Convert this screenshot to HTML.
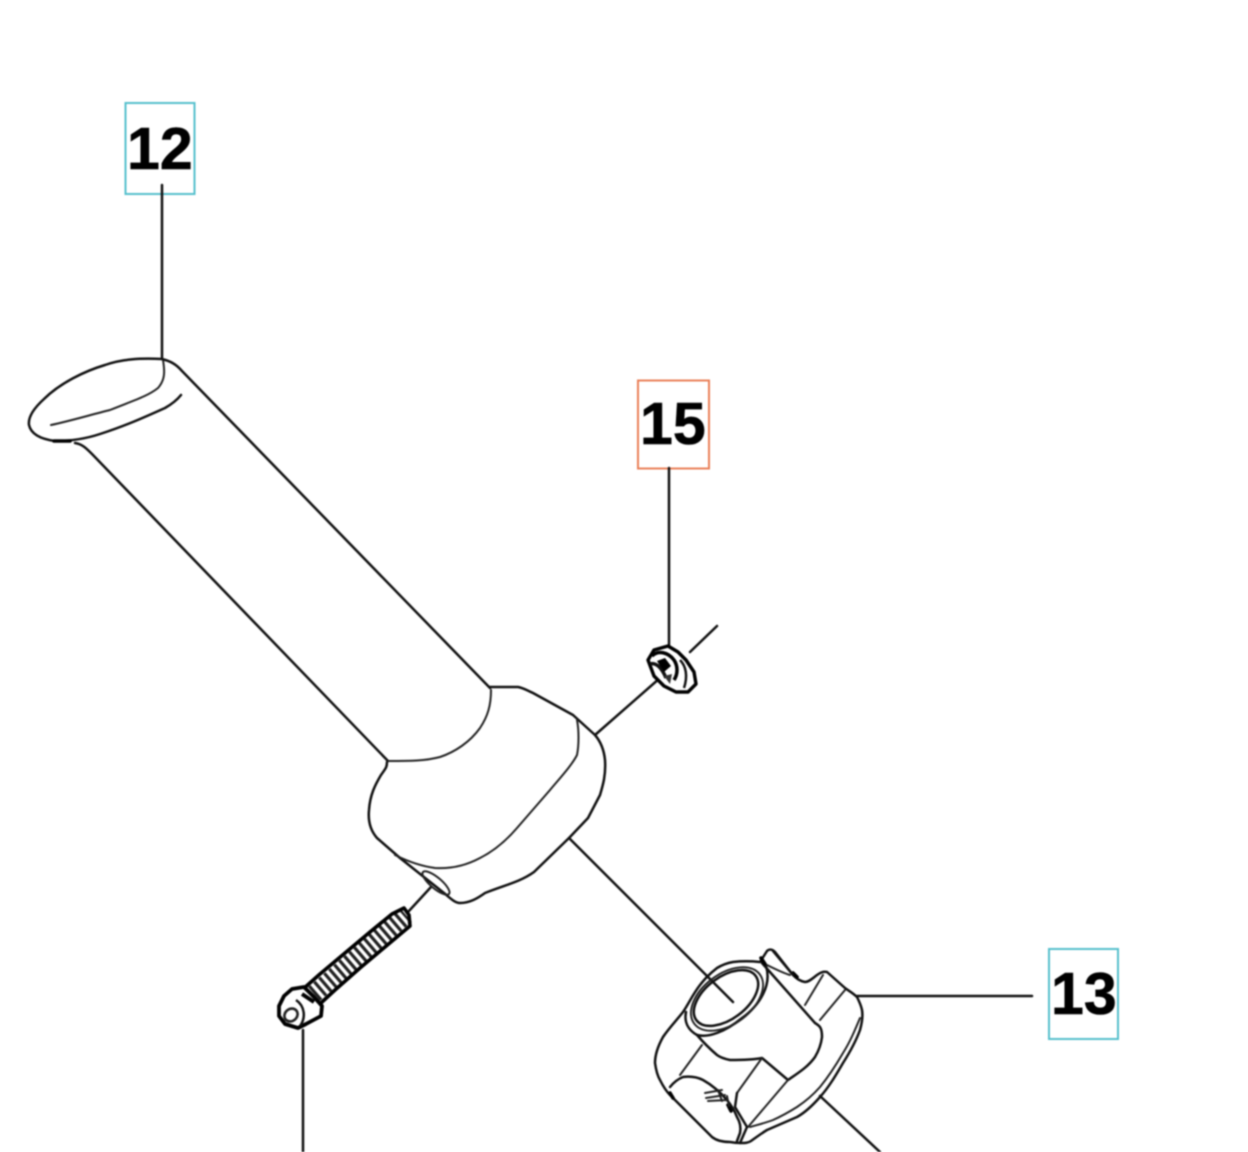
<!DOCTYPE html>
<html>
<head>
<meta charset="utf-8">
<style>
html,body{margin:0;padding:0;background:#fff;width:1248px;height:1152px;overflow:hidden}
svg{display:block;filter:blur(.7px)}
text{font-family:"Liberation Sans",sans-serif;font-weight:700;font-size:59px;fill:#000;stroke:#000;stroke-width:.6px}
.m{fill:none;stroke:#111;stroke-width:2.5;stroke-linejoin:round;stroke-linecap:round}
.t{fill:none;stroke:#222;stroke-width:2;stroke-linejoin:round;stroke-linecap:round}
.h{fill:none;stroke:#000;stroke-width:3.6;stroke-linejoin:round;stroke-linecap:round}
</style>
</head>
<body>
<svg width="1248" height="1152" viewBox="0 0 1248 1152" xmlns="http://www.w3.org/2000/svg">
<rect x="125.500" y="103" width="69" height="91" fill="none" stroke="#55c0cd" stroke-width="2"/>
<rect x="638" y="380.500" width="71" height="88" fill="none" stroke="#ea8058" stroke-width="2"/>
<rect x="1049" y="949" width="69" height="90" fill="none" stroke="#55c0cd" stroke-width="2"/>
<text x="127" y="169">12</text>
<text x="640" y="444">15</text>
<text x="1051" y="1014">13</text>

<!-- leaders -->
<path class="m" d="M162 185V359M669 468V648M857 996H1032M303 1030V1152"/>
<path class="m" d="M569 838L733 1002M820 1096L880 1152M595 735L660 678M690 652L717 626M431 887L408 912"/>

<!-- grip -->
<path class="m" d="M162 359C140 358 122 359 105 365C85 371 60 383 44 399C33 409 28 418 29 425C31 434 40 439 55 441C70 441 85 439 100 434C125 426 145 417 165 408C172 404 177 400 181 395"/>
<path class="t" d="M163 360C165 372 165 380 158 388C148 396 135 400 110 410C90 415 70 421 51 425"/>
<path class="h" d="M54 441H70" />
<path class="m" d="M162 359C170 361 176 364 182 371L490 688"/>
<path class="m" d="M75 443C82 444 86 448 92 454L388 761"/>
<!-- collar -->
<path class="m" d="M490 687H518C524 688 528 691 533 693L573 715L595 735C601 742 604 750 605 760C606 775 603 785 600 795L588 818L569 838L534 872C520 882 505 885 485 893C478 898 470 903 460 903C455 903 450 898 444 893L400 858L377 838C370 830 368 820 369 810C370 795 375 785 381 775C386 768 387 767 387 762"/>
<path class="t" d="M491 690C491 705 488 716 480 728C470 742 455 752 440 757C425 761 410 761 388 761"/>
<path class="t" d="M577 720C579 730 579 745 577 755C572 765 560 778 550 790L517 828C505 842 492 852 480 858C465 866 450 869 435 868C420 866 405 860 395 855"/>
<ellipse class="t" cx="436" cy="883" rx="17" ry="5.500" transform="rotate(40 436 883)"/>

<!-- nut -->
<g>
<path d="M648 660L654 650L668 646L678 652L686 660L694 672L696 684L688 692L676 692L664 686L654 676Z" fill="#fff" stroke="#000" stroke-width="3.400" stroke-linejoin="round"/>
<path d="M652 656C658 650 668 652 674 660C678 666 678 674 674 680" fill="none" stroke="#000" stroke-width="3.500"/>
<path d="M650 664C656 662 662 668 666 678" fill="none" stroke="#111" stroke-width="3.500"/>
<path d="M680 660C686 666 688 676 684 688" fill="none" stroke="#111" stroke-width="2.500"/>
<path d="M657 661L665 658L671 666L664 672Z" fill="#000"/>
<path d="M664 676L672 674L670 684Z" fill="#333"/>
</g>

<!-- bolt -->
<g>
<path d="M314 994L406 915" fill="none" stroke="#222" stroke-width="18" stroke-dasharray="3.200 3.400"/>
<path class="h" d="M302 990L320 974L345 953L370 932L392 914L404 908L409 915L410 926L385 947L360 968L335 990L322 1002L316 1010" stroke-width="4"/>
<path d="M292 989L304 987L314 997L322 1006L321 1016L306 1024L298 1028L285 1024L279 1016L279 1006L284 996Z" fill="#fff" stroke="#000" stroke-width="3.800" stroke-linejoin="round"/>
<path d="M296 1000C305 1006 306 1018 300 1026" fill="none" stroke="#111" stroke-width="2.500"/>
<ellipse cx="291" cy="1015" rx="7" ry="6" transform="rotate(-40 291 1015)" fill="none" stroke="#222" stroke-width="2.600"/>
<path d="M302 994L314 1002" stroke="#000" stroke-width="4"/>
</g>

<!-- knob -->
<g>
<path class="m" d="M760 962C750 961 742 961 733 962C727 963 722 965 717 968C708 975 704 980 700 985C693 994 689 1003 683 1012C676 1021 669 1028 663 1037C658 1046 655 1054 655 1063C656 1070 657 1075 660 1080C663 1086 666 1091 670 1095L712 1137C717 1141 723 1142 730 1142C735 1143 738 1143 741 1143C745 1143 748 1143 751 1141C758 1136 762 1133 767 1130L797 1117C806 1112 813 1105 820 1097C829 1087 836 1075 843 1063C850 1052 856 1041 860 1030C862 1023 863 1016 862 1010C861 1005 859 1001 857 997C853 993 849 991 845 988L827 972C823 971 820 973 817 975C813 978 809 982 805 982C800 981 797 979 793 975L775 952C772 949 769 949 767 951L760 962Z"/>
<path class="t" d="M750 1127C757 1125 765 1123 773 1120C782 1116 789 1112 797 1107C806 1101 813 1095 820 1087C829 1076 836 1065 843 1053C850 1042 855 1030 860 1018"/>
<path class="m" d="M766 966C772 985 760 1005 742 1018C725 1032 708 1038 697 1035C688 1030 684 1022 686 1012"/>
<ellipse class="t" cx="727" cy="999" rx="41" ry="25" transform="rotate(-37 727 999)"/>
<ellipse class="m" cx="726" cy="998" rx="37" ry="21" transform="rotate(-37 726 998)"/>
<path class="m" d="M762 963L815 1023C820 1026 822 1028 822 1037C821 1045 818 1052 815 1057C808 1067 798 1073 788 1080L762 1058C752 1060 740 1060 730 1060C725 1059 721 1058 717 1055C710 1049 703 1042 697 1035"/>
<path class="t" d="M702 1045L680 1075M762 1058L737 1093M788 1080L748 1127M805 1005L823 975M820 1020L845 990M767 965C775 969 783 973 790 975"/>
<path class="m" d="M737 1093L735 1107L747 1127L740 1143"/>
<path class="m" d="M670 1087C674 1082 678 1079 683 1077C691 1076 697 1077 703 1080C712 1085 720 1092 727 1100C732 1106 735 1112 737 1117C740 1122 741 1128 740 1133L737 1141"/>
<path class="h" d="M670 1093L673 1098M728 1105L731 1111M761 958L765 964M793 973L797 977"/>
<path class="t" d="M705 1093L722 1090M706 1098L725 1095M708 1101L727 1100M718 1090L722 1101M727 1096L729 1106"/>
<path class="m" d="M773 951L793 975"/>
</g>
</svg>
</body>
</html>
